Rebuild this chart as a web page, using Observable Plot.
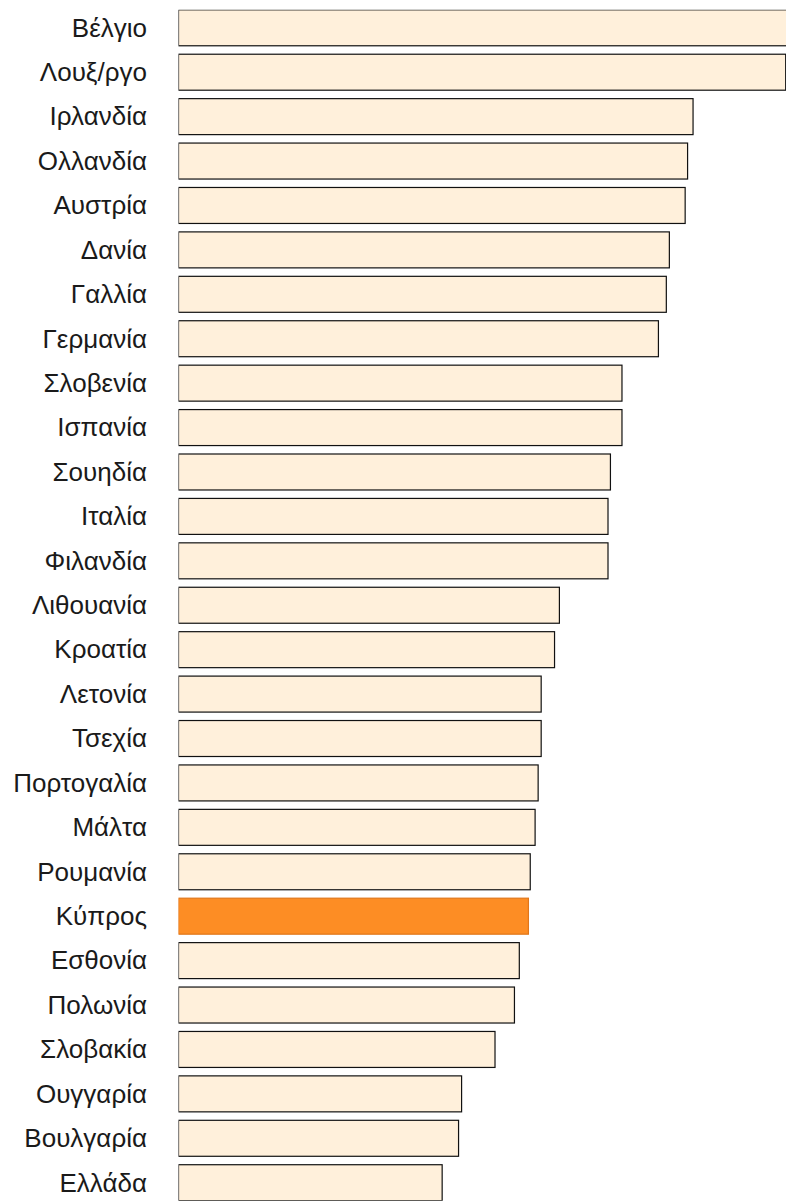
<!DOCTYPE html>
<html><head><meta charset="utf-8">
<script src="https://cdn.jsdelivr.net/npm/d3@7"></script>
<script src="https://cdn.jsdelivr.net/npm/@observablehq/plot@0.6"></script>
<style>html,body{margin:0;padding:0;background:#fff;overflow:hidden;}</style>
</head><body><div id="chart"></div>
<script>
const countries = ["Βέλγιο","Λουξ/ργο","Ιρλανδία","Ολλανδία","Αυστρία","Δανία","Γαλλία","Γερμανία","Σλοβενία","Ισπανία","Σουηδία","Ιταλία","Φιλανδία","Λιθουανία","Κροατία","Λετονία","Τσεχία","Πορτογαλία","Μάλτα","Ρουμανία","Κύπρος","Εσθονία","Πολωνία","Σλοβακία","Ουγγαρία","Βουλγαρία","Ελλάδα"];
const values = [105, 99.95, 84.7, 83.8, 83.4, 80.8, 80.3, 79.0, 73.0, 73.0, 71.1, 70.7, 70.7, 62.7, 61.9, 59.7, 59.7, 59.2, 58.7, 57.9, 57.6, 56.1, 55.3, 52.1, 46.6, 46.1, 43.4];
const highlight = "Κύπρος";
const data = countries.map((c, i) => ({country: c, value: values[i]}));

const chart = Plot.plot({
  width: 786,
  height: 1201,
  marginLeft: 178.5,
  marginRight: 0,
  marginTop: 9.8,
  marginBottom: 0.3,
  style: {fontFamily: "'Liberation Sans', Arial, sans-serif", fontSize: "26px", color: "#1a1a1a"},
  x: {domain: [0, 100], axis: null},
  y: {domain: countries, paddingInner: 0.19, paddingOuter: 0, align: 0.5, round: false, label: null},
  marks: [
    Plot.barX(data, {y: "country", x: "value", fill: d => d.country === highlight ? "#fd8d24" : "#fff0db",
      stroke: d => d.country === highlight ? "#e0761a" : "#111", strokeWidth: 1.2, clip: true}),
    Plot.axisY({tickSize: 0, tickPadding: 32, fontSize: 26, fontWeight: 300, label: null})
  ]
});
document.getElementById("chart").append(chart);
</script>
</body></html>
